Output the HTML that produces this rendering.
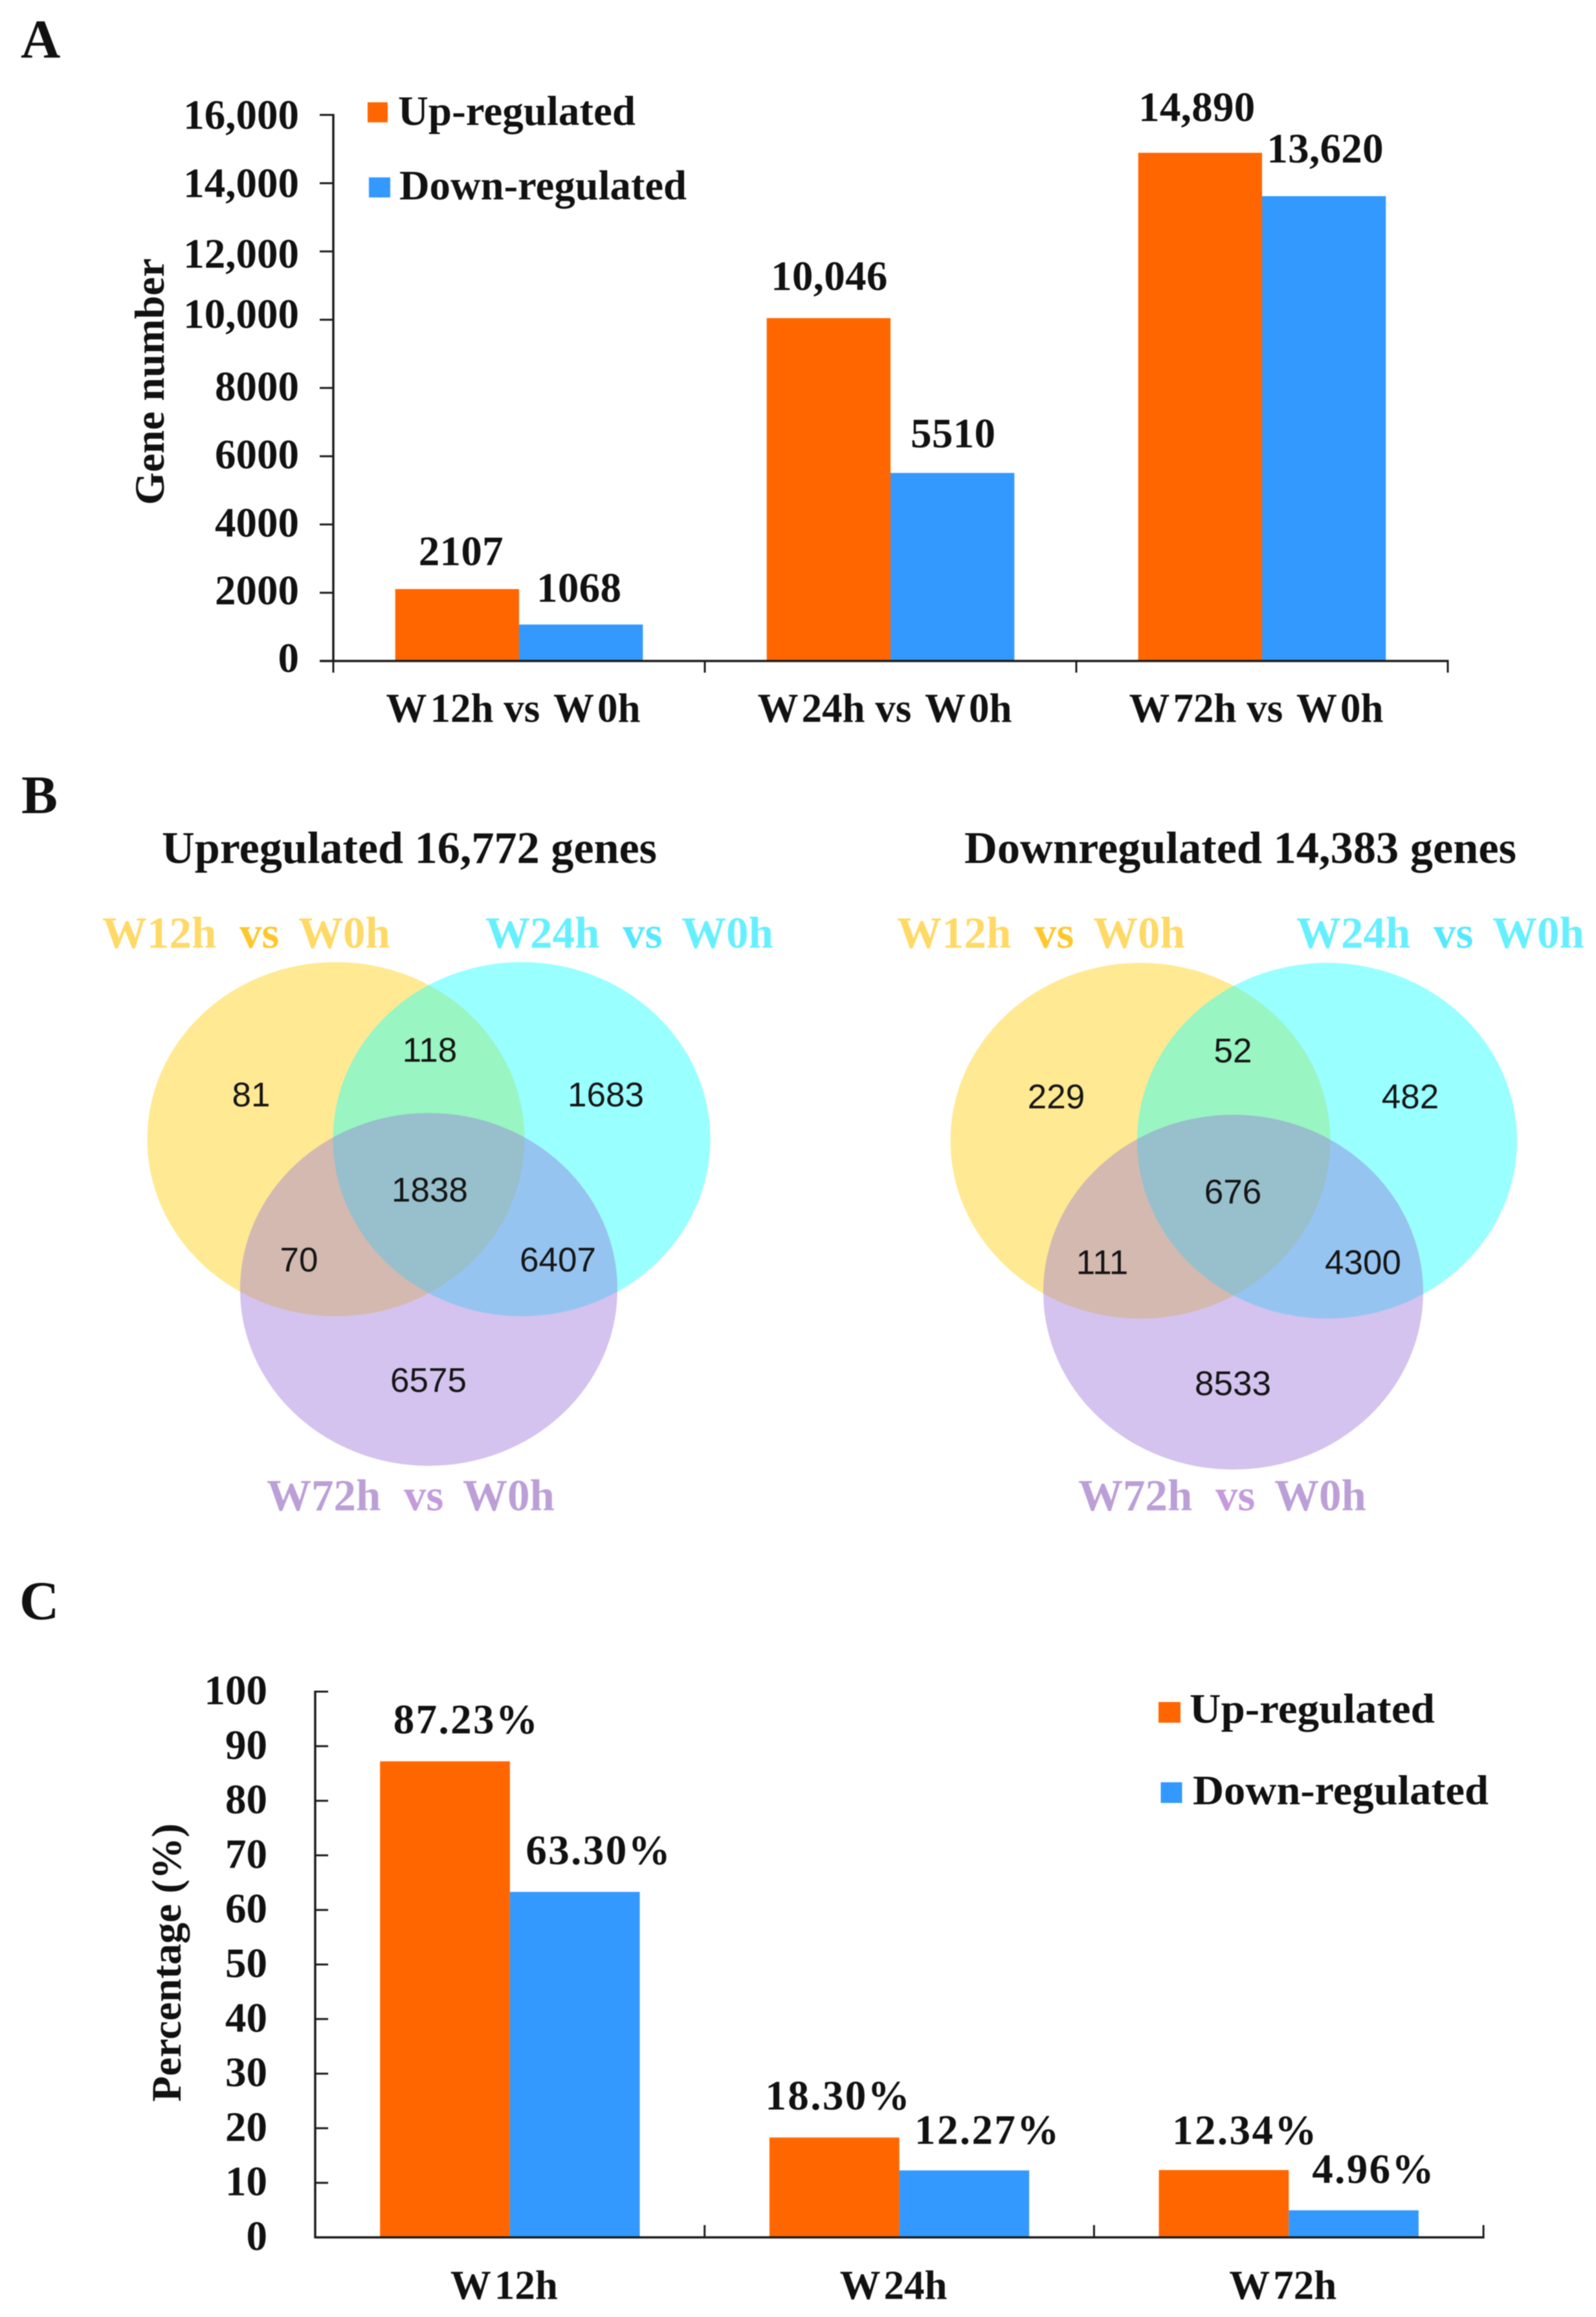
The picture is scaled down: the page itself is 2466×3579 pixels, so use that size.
<!DOCTYPE html>
<html lang="en">
<head>
<meta charset="utf-8">
<title>Differentially expressed genes</title>
<style>
  html, body { margin: 0; padding: 0; background: #fff; }
  svg { display: block; filter: blur(0.8px); }
  text { font-family: "Liberation Serif", serif; font-weight: bold; fill: #111; }
  .venn-num { font-family: "Liberation Sans", sans-serif; font-weight: normal; font-size: 53px; text-anchor: middle; fill: #151515; }
</style>
</head>
<body>
<svg id="figure" xmlns="http://www.w3.org/2000/svg" width="2466" height="3579" viewBox="0 0 2466 3579">
  <rect width="2466" height="3579" fill="#fff"/>
  <text x="32" y="89" font-size="85">A</text>
  <text x="33" y="1256" font-size="84">B</text>
  <text x="30" y="2501" font-size="85">C</text>
  <text x="250" y="1333" font-size="70" textLength="765" lengthAdjust="spacingAndGlyphs">Upregulated 16,772 genes</text>
  <text x="1490" y="1333" font-size="70" textLength="853" lengthAdjust="spacingAndGlyphs">Downregulated 14,383 genes</text>
  <g id="venn-left"></g>
  <g id="venn-right"></g>
  <g id="chart-a"></g>
  <g id="chart-c"></g>
</svg>
<script>
// Panel A data
const geneCategories = ['W12h vs W0h', 'W24h vs W0h', 'W72h vs W0h'];
const geneUp = [2107, 10046, 14890];
const geneDown = [1068, 5510, 13620];
const geneTicks = [0, 2000, 4000, 6000, 8000, 10000, 12000, 14000, 16000];
const geneTickLabels = ['0', '2000', '4000', '6000', '8000', '10,000', '12,000', '14,000', '16,000'];

// Panel C data
const pctCategories = ['W12h', 'W24h', 'W72h'];
const pctUp = [87.23, 18.30, 12.34];
const pctDown = [63.30, 12.27, 4.96];
const pctTicks = [0, 10, 20, 30, 40, 50, 60, 70, 80, 90, 100];
const pctTickLabels = ['0', '10', '20', '30', '40', '50', '60', '70', '80', '90', '100'];

// Panel B data
const vennUpCounts = ['81', '118', '1683', '1838', '70', '6407', '6575'];
const vennDownCounts = ['229', '52', '482', '676', '111', '4300', '8533'];

const NS = 'http://www.w3.org/2000/svg';
const ORANGE = '#FF6600';
const BLUE = '#3399FF';
const AXIS = '#1c1c1c';

function make(tag, attrs, parent, txt) {
  const n = document.createElementNS(NS, tag);
  for (const k in attrs) n.setAttribute(k, attrs[k]);
  if (txt !== undefined) n.textContent = txt;
  parent.appendChild(n);
  return n;
}

function fmtGene(v) {
  return v >= 10000 ? String(v).replace(/(\d)(\d{3})$/, '$1,$2') : String(v);
}
function fmtPct(v) {
  return v.toFixed(2) + '%';
}

// Category text: the source figure has a visible gap after each "W" and before the final word.
function fillCategory(label, name) {
  const words = name.split(' ');
  words.forEach(function (w, i) {
    const tail = i < words.length - 1 ? ' ' : '';
    if (w.charAt(0) === 'W') {
      make('tspan', i > 0 ? { dx: 6 } : {}, label, 'W');
      make('tspan', { dx: 5 }, label, w.slice(1) + tail);
    } else {
      make('tspan', {}, label, w + tail);
    }
  });
}

function drawChart(root, c) {
  const yPos = v => c.y0 - (v / c.yMax) * (c.y0 - c.yTop);
  const xLeft = i => c.x0 + i * c.step + c.gap;
  const barW = (c.step - 2 * c.gap) / 2;

  // bars and value labels
  [c.up, c.down].forEach(function (series, s) {
    series.forEach(function (v, i) {
      const x = xLeft(i) + s * barW;
      const top = yPos(v);
      const bar = make('rect', { x: x, y: top, width: barW, height: c.y0 - top, fill: s === 0 ? ORANGE : BLUE }, root);
      
      
      const off = c.valueOffsets[s][i];
      const label = make('text', { x: x + barW / 2 + off[0], y: top - off[1], 'font-size': 65, 'text-anchor': 'middle', 'letter-spacing': c.valueSpacing }, root, c.fmt(v));
      
      
    });
  });

  // axes
  const yAxis = make('line', { x1: c.x0, x2: c.x0, y1: c.yTop - 1.5, y2: c.y0 + 1.5, stroke: AXIS, 'stroke-width': 3.5 }, root);
  
  
  const xAxis = make('line', { x1: c.x0 + c.yTickA, x2: c.x0 + c.step * c.cats.length + 1.5, y1: c.y0, y2: c.y0, stroke: AXIS, 'stroke-width': 3.5 }, root);
  
  

  // y ticks and labels
  c.ticks.forEach(function (t, i) {
    const y = yPos(t);
    const tick = make('line', { x1: c.x0 + c.yTickA, x2: c.x0 + c.yTickB, y1: y, y2: y, stroke: AXIS, 'stroke-width': 3 }, root);
    
    
    const label = make('text', { x: c.tickRight, y: y + c.tickDy + (c.tickNudge ? c.tickNudge[i] : 0), 'font-size': 65, 'text-anchor': 'end' }, root, c.tickLabels[i]);
    
    
  });

  // x ticks and labels
  for (let i = 0; i <= c.cats.length; i++) {
    const x = c.x0 + i * c.step;
    const tick = make('line', { x1: x, x2: x, y1: c.y0, y2: c.y0 + c.xTick, stroke: AXIS, 'stroke-width': 3 }, root);
    
    
  }
  c.cats.forEach(function (name, i) {
    const label = make('text', { x: c.x0 + (i + 0.5) * c.step + c.catDx, y: c.catY, 'font-size': 63, 'text-anchor': 'middle' }, root);
    
    
    fillCategory(label, name);
  });

  // axis title
  const title = make('text', { transform: 'translate(' + c.titleX + ',' + c.titleY + ') rotate(-90)', 'font-size': 65, 'text-anchor': 'middle' }, root, c.title);
  
  

  // legend
  c.legend.forEach(function (e) {
    const swatch = make('rect', { x: e.sx, y: e.sy, width: e.sw, height: e.sh, fill: e.color }, root);
    
    
    const label = make('text', { x: e.tx, y: e.ty, 'font-size': 65, textLength: e.tl, lengthAdjust: 'spacingAndGlyphs' }, root, e.text);
    
    
  });
}

drawChart(document.getElementById('chart-a'), {
  cats: geneCategories, up: geneUp, down: geneDown, ticks: geneTicks, tickLabels: geneTickLabels,
  fmt: fmtGene, yMax: 16000, x0: 515, step: 574, gap: 95.7, y0: 1021, yTop: 177.5,
  yTickA: -21, yTickB: 0, xTick: 18, tickRight: 462, tickDy: 19,
  tickNudge: [-2, -1, 0, 0, 0, -6.5, 6, 2.5, 2.5],
  valueOffsets: [[[6, 37], [1, 43.5], [-5, 49]], [[-3, 35], [1, 39.5], [2, 52]]],
  valueSpacing: 0.3,
  catDx: -9, catY: 1115,
  title: 'Gene number', titleX: 253, titleY: 589.5,
  legend: [
    { sx: 568, sy: 158, sw: 31, sh: 31, color: ORANGE, tx: 615, ty: 193, tl: 367, text: 'Up-regulated' },
    { sx: 570, sy: 274, sw: 33, sh: 31, color: BLUE, tx: 617, ty: 308, tl: 444, text: 'Down-regulated' }
  ]
});

drawChart(document.getElementById('chart-c'), {
  cats: pctCategories, up: pctUp, down: pctDown, ticks: pctTicks, tickLabels: pctTickLabels,
  fmt: fmtPct, yMax: 100, x0: 487, step: 601.7, gap: 100.2, y0: 3456, yTop: 2613,
  yTickA: 0, yTickB: 20, xTick: -19, tickRight: 413, tickDy: 19.5,
  valueOffsets: [[[33, 43], [6, 43], [33, 40]], [[37, 42.7], [36, 41], [31, 42]]],
  valueSpacing: 2.4,
  catDx: -9, catY: 3551,
  title: 'Percentage (%)', titleX: 279, titleY: 3031.5,
  legend: [
    { sx: 1790, sy: 2629, sw: 34, sh: 32, color: ORANGE, tx: 1838, ty: 2661, tl: 379, text: 'Up-regulated' },
    { sx: 1793.5, sy: 2753, sw: 33, sh: 32, color: BLUE, tx: 1843, ty: 2787, tl: 457, text: 'Down-regulated' }
  ]
});

function drawVenn(root, v) {
  const Y = '#FFE993', C = '#99FFFF', P = '#D3C3EE';
  const YC = '#99F5C2', YP = '#D3B9AF', CP = '#96C4F0', YCP = '#98BFCC';
  const defs = make('defs', {}, root);
  const clipY = make('clipPath', { id: v.id + '-clip-y' }, defs);
  make('ellipse', { cx: v.yx, cy: v.cy1, rx: v.rx, ry: v.ry1 }, clipY);
  const clipC = make('clipPath', { id: v.id + '-clip-c' }, defs);
  make('ellipse', { cx: v.cx, cy: v.cy1, rx: v.rx, ry: v.ry1 }, clipC);

  const a = make('ellipse', { cx: v.yx, cy: v.cy1, rx: v.rx, ry: v.ry1, fill: Y }, root);
  
  
  const b = make('ellipse', { cx: v.cx, cy: v.cy1, rx: v.rx, ry: v.ry1, fill: C }, root);
  
  
  const c = make('ellipse', { cx: v.px, cy: v.cy2, rx: v.rx, ry: v.ry2, fill: P }, root);
  
  

  make('ellipse', { cx: v.cx, cy: v.cy1, rx: v.rx, ry: v.ry1, fill: YC, 'clip-path': 'url(#' + v.id + '-clip-y)' }, root);
  make('ellipse', { cx: v.px, cy: v.cy2, rx: v.rx, ry: v.ry2, fill: YP, 'clip-path': 'url(#' + v.id + '-clip-y)' }, root);
  make('ellipse', { cx: v.px, cy: v.cy2, rx: v.rx, ry: v.ry2, fill: CP, 'clip-path': 'url(#' + v.id + '-clip-c)' }, root);
  const centre = make('g', { 'clip-path': 'url(#' + v.id + '-clip-y)' }, root);
  make('ellipse', { cx: v.px, cy: v.cy2, rx: v.rx, ry: v.ry2, fill: YCP, 'clip-path': 'url(#' + v.id + '-clip-c)' }, centre);

  v.counts.forEach(function (t, i) {
    const n = make('text', { class: 'venn-num', x: v.numX[i], y: v.numY[i] }, root, t);
    
    
  });

  v.sets.forEach(function (s) {
    const g = make('g', {}, root);
    
    
    make('text', { x: s.x, y: s.y, 'font-size': 69, style: 'fill:' + s.c1 }, g, s.name);
    make('text', { x: s.x + 212, y: s.y, 'font-size': 69, style: 'fill:' + s.c2 }, g, 'vs');
    make('text', { x: s.x + 303, y: s.y, 'font-size': 69, style: 'fill:' + s.c1 }, g, 'W0h');
  });
}

drawVenn(document.getElementById('venn-left'), {
  id: 'vl', yx: 519, cx: 806, px: 662.5, cy1: 1759.6, ry1: 273.5, cy2: 1991.7, ry2: 272.5, rx: 291.5,
  counts: vennUpCounts,
  numX: [388, 664, 936, 664, 462, 862, 662],
  numY: [1709, 1640, 1709, 1856, 1964, 1964, 2150],
  sets: [
    { name: 'W12h', x: 158, y: 1464, c1: '#FFD966', c2: '#FFC72E' },
    { name: 'W24h', x: 750, y: 1464, c1: '#66F0FF', c2: '#55E8FF' },
    { name: 'W72h', x: 412, y: 2333, c1: '#BB9FD6', c2: '#C49BDC' }
  ]
});

drawVenn(document.getElementById('venn-right'), {
  id: 'vr', yx: 1762, cx: 2050.5, px: 1905.5, cy1: 1762, ry1: 274.7, cy2: 1996, ry2: 274, rx: 293.5,
  counts: vennDownCounts,
  numX: [1632, 1905, 2179, 1905, 1703, 2106, 1905],
  numY: [1712, 1641, 1712, 1859, 1968, 1968, 2155],
  sets: [
    { name: 'W12h', x: 1386, y: 1464, c1: '#FFD966', c2: '#FFC72E' },
    { name: 'W24h', x: 2003, y: 1464, c1: '#66F0FF', c2: '#55E8FF' },
    { name: 'W72h', x: 1666, y: 2333, c1: '#BB9FD6', c2: '#C49BDC' }
  ]
});
</script>
</body>
</html>
